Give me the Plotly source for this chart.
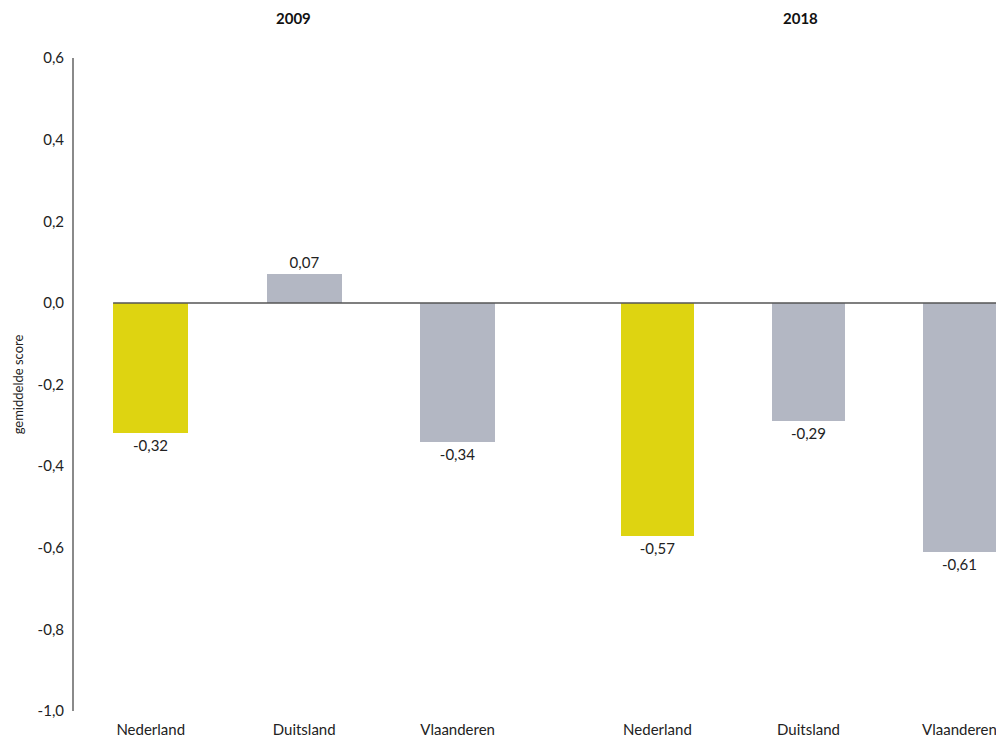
import plotly.graph_objects as go
from plotly.subplots import make_subplots

countries = ["Nederland", "Duitsland", "Vlaanderen"]
years = ["2009", "2018"]
scores_2009 = [-0.32, 0.07, -0.34]
scores_2018 = [-0.57, -0.29, -0.61]
bar_colors = ["#DED411", "#B3B7C3", "#B3B7C3"]
ytick_vals = [0.6, 0.4, 0.2, 0.0, -0.2, -0.4, -0.6, -0.8, -1.0]
ytick_text = [f"{v:.1f}".replace(".", ",") for v in ytick_vals]

def fmt(v):
    return f"{v:.2f}".replace(".", ",")

FONT = "Lato"
TXT = "#222222"
BAR_W = 0.49

fig = make_subplots(rows=1, cols=2, shared_yaxes=True, horizontal_spacing=0.0)

for i, vals in enumerate([scores_2009, scores_2018]):
    fig.add_trace(
        go.Bar(
            x=countries,
            y=vals,
            marker=dict(color=bar_colors, line=dict(width=0)),
            width=BAR_W,
            text=[fmt(v) for v in vals],
            textposition="outside",
            textfont=dict(family=FONT, size=15, color=TXT),
            cliponaxis=False,
            showlegend=False,
            hoverinfo="skip",
        ),
        row=1, col=i + 1,
    )

d1 = [0.0, 0.495]
d2 = [0.5462, 1.0]
x2_range = [-0.5, 2.295]

fig.update_layout(
    width=996, height=729,
    margin=dict(l=66, r=0, t=50, b=26),
    paper_bgcolor="white", plot_bgcolor="white",
    font=dict(family=FONT, size=15, color=TXT),
    bargap=0,
    xaxis=dict(domain=d1, range=[-0.5, 2.5], showgrid=False, zeroline=False,
               showline=False, ticks="", tickfont=dict(size=15, color=TXT),
               ticklabelstandoff=8),
    xaxis2=dict(domain=d2, range=x2_range, showgrid=False, zeroline=False,
                showline=False, ticks="", tickfont=dict(size=15, color=TXT),
                ticklabelstandoff=8),
    yaxis=dict(range=[-1.0, 0.6], showgrid=False, zeroline=False,
               showline=True, linecolor="#8A8A8A", linewidth=2,
               ticks="", tickvals=ytick_vals, ticktext=ytick_text,
               tickfont=dict(size=15, color=TXT), ticklabelstandoff=5,
               title=dict(text="gemiddelde score", font=dict(size=13, color=TXT),
                          standoff=11)),
    yaxis2=dict(range=[-1.0, 0.6], showgrid=False, zeroline=False,
                showline=False, showticklabels=False, ticks=""),
)

# zero line from first bar edge to the right edge
x0_frac = d1[0] + (d1[1] - d1[0]) * ((0 - BAR_W / 2) - (-0.5)) / 3.0
fig.add_shape(type="line", xref="paper", yref="y", x0=x0_frac, x1=1.0, y0=0, y1=0,
              line=dict(color="#555555", width=1.5), layer="above")

# year titles
fig.add_annotation(text="<b>" + years[0] + "</b>", xref="paper", yref="paper",
                   x=(293 - 74) / 930, y=1.0, yshift=40, xanchor="center",
                   yanchor="middle", showarrow=False,
                   font=dict(family=FONT, size=15, color="#111111"))
fig.add_annotation(text="<b>" + years[1] + "</b>", xref="paper", yref="paper",
                   x=(800 - 74) / 930, y=1.0, yshift=40, xanchor="center",
                   yanchor="middle", showarrow=False,
                   font=dict(family=FONT, size=15, color="#111111"))

fig.write_html("out.html")
